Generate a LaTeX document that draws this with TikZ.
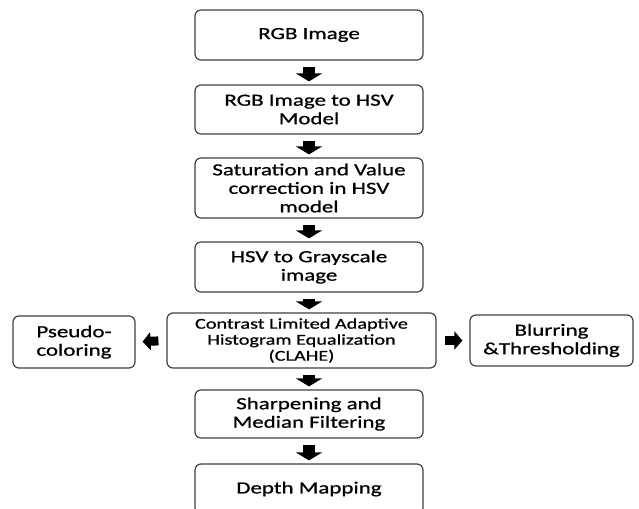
\documentclass[tikz,border=0pt]{standalone}
\usepackage{fontspec}
\setmainfont[FakeStretch=1.35,FakeBold=0.8]{Carlito}
\usetikzlibrary{arrows.meta}

\begin{document}
\begin{tikzpicture}[x=1pt,y=-1pt,
  stepbox/.style={draw=black!75,line width=1.2pt,rounded corners=6pt,
    align=center,text=black,inner sep=0pt,
    font=\fontsize{17}{18.5}\selectfont},
  downarrow/.style={line width=12pt,shorten <=6pt,shorten >=3pt,
    -{Triangle[width=26pt,length=8pt]}},
  sidearrow/.style={line width=9pt,shorten <=8pt,shorten >=7pt,
    -{Triangle[width=18pt,length=8pt]}}]

\clip (0,0) rectangle (639,508);

% main column
\node[stepbox,minimum width=228pt,minimum height=50pt] (rgb) at (309,35) {RGB Image};
\node[stepbox,minimum width=228pt,minimum height=49pt] (tohsv) at (309,109.5) {RGB Image to HSV\\Model};
\node[stepbox,minimum width=228pt,minimum height=60pt] (satval) at (309,188) {Saturation and Value\\correction in HSV\\model};
\node[stepbox,minimum width=228pt,minimum height=50pt] (gray) at (309,267) {HSV to Grayscale\\image};
\node[stepbox,minimum width=269pt,minimum height=55pt,
  font=\fontsize{15}{16}\selectfont] (clahe) at (301.5,340.5) {Contrast Limited Adaptive\\Histogram Equalization\\(CLAHE)};
\node[stepbox,minimum width=228pt,minimum height=48pt] (sharp) at (309,414) {Sharpening and\\Median Filtering};
\node[stepbox,minimum width=228pt,minimum height=50pt] (depth) at (309,489) {Depth Mapping};

% side branches
\node[stepbox,minimum width=122pt,minimum height=52pt] (pseudo) at (74,342) {Pseudo-\\coloring};
\node[stepbox,minimum width=163pt,minimum height=51pt] (blur) at (551.5,340.5) {Blurring\\\&Thresholding};

\draw[downarrow] (rgb) -- (tohsv);
\draw[downarrow] (tohsv) -- (satval);
\draw[downarrow] (satval) -- (gray);
\draw[downarrow] (gray.south) -- (gray.south |- clahe.north);
\draw[downarrow] (sharp.north |- clahe.south) -- (sharp.north);
\draw[downarrow] (sharp) -- (depth);

\draw[sidearrow] (clahe.west) -- (pseudo.east);
\draw[sidearrow] (clahe.east) -- (blur.west);

\end{tikzpicture}
\end{document}
